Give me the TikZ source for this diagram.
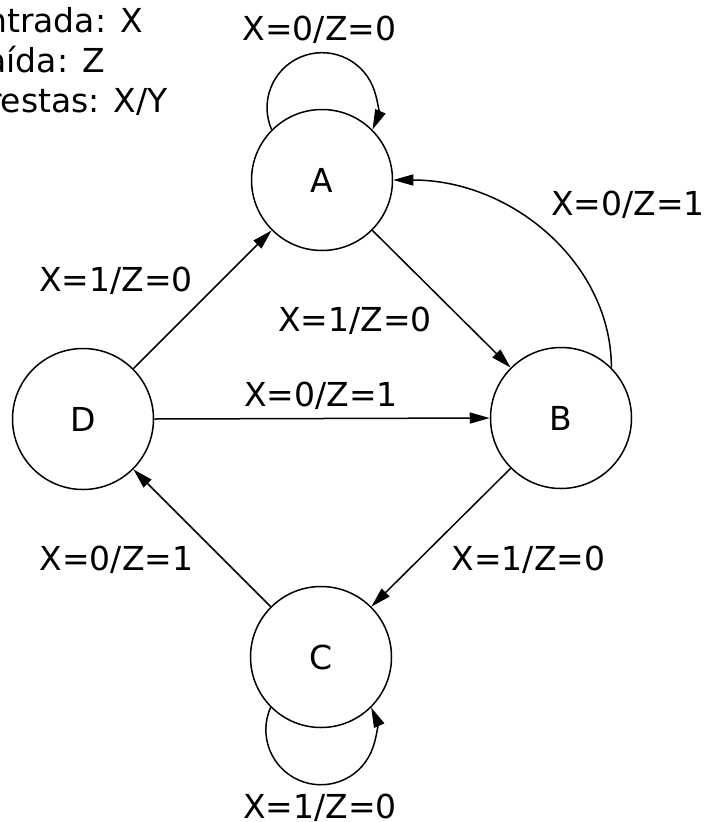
\documentclass[tikz,border=0pt]{standalone}
\usepackage{fontspec}
\setmainfont{DejaVu Sans}
\usetikzlibrary{arrows.meta}
\begin{document}
\begin{tikzpicture}[x=1pt,y=-1pt,
  every node/.style={font=\fontsize{33}{40}\selectfont},
  state/.style={draw,circle,line width=1.5pt,minimum size=141pt,inner sep=0pt},
  lbl/.style={anchor=base,inner sep=0pt},
  info/.style={anchor=base east,inner sep=0pt},
  edge/.style={line width=1.5pt,-{Triangle[length=20pt,width=11pt]}}]
\useasboundingbox (0,0) rectangle (707,822);
% legend (clipped at left border)
\node[info] (l1) at (143,32) {Entrada: X};
\node[info] (l2) at (105,72) {Saída: Z};
\node[info] (l3) at (168,112) {Arestas: X/Y};
% states
\node[state] (A) at (322,180) {A};
\node[state] (B) at (561,418) {B};
\node[state] (C) at (321,657) {C};
\node[state] (D) at (83,419) {D};
% transitions
\draw[edge] (A.135) arc[start angle=156.5, end angle=383.5, radius=55];
\draw[edge] (C.-135) arc[start angle=204, end angle=-24, radius=55];
\draw[edge] (A.-45) -- (B.135);
\draw[edge] (D.45) -- (A.225);
\draw[edge] (D.0) -- (B.180);
\draw[edge] (B.225) -- (C.45);
\draw[edge] (C.135) -- (D.-45);
\draw[edge] (B.45) .. controls +(0,-103) and +(120,0) .. (A.0);
% labels
\node[lbl] (tAA) at (319.5,40) {X=0/Z=0};
\node[lbl] (tDA) at (116,291) {X=1/Z=0};
\node[lbl] (tAB) at (355,331) {X=1/Z=0};
\node[lbl] (tDB) at (321,406) {X=0/Z=1};
\node[lbl] (tBA) at (628,215) {X=0/Z=1};
\node[lbl] (tCD) at (116.5,570) {X=0/Z=1};
\node[lbl] (tBC) at (528.5,570) {X=1/Z=0};
\node[lbl] (tCC) at (320,818) {X=1/Z=0};
\end{tikzpicture}
\end{document}
